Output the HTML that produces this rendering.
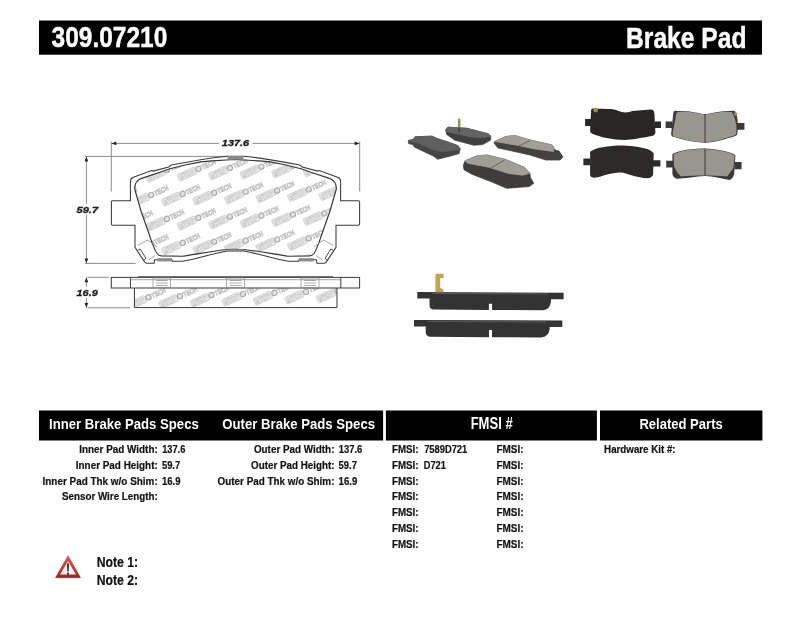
<!DOCTYPE html>
<html><head><meta charset="utf-8"><title>309.07210 Brake Pad</title>
<style>html,body{margin:0;padding:0;background:#fff;}body{width:800px;height:619px;overflow:hidden;font-family:"Liberation Sans",sans-serif;}svg{display:block;will-change:transform;}</style>
</head><body>
<svg width="800" height="619" viewBox="0 0 800 619" font-family="Liberation Sans, sans-serif"><rect x="39" y="20.5" width="723" height="34.2" fill="#000"/>
<text x="51.51" y="46.80" font-size="30.28" font-weight="bold" font-style="normal" fill="#fff" stroke="#fff" stroke-width="0.45" textLength="115.85" lengthAdjust="spacingAndGlyphs">309.07210</text>
<text x="626.08" y="48.30" font-size="29.04" font-weight="bold" font-style="normal" fill="#fff" stroke="#fff" stroke-width="0.45" textLength="120.39" lengthAdjust="spacingAndGlyphs">Brake Pad</text>
<defs>
<clipPath id="fc"><path d="M235.5 159.5 L226 160 L212 160.9 L201 161.9 L185 165 L170 168.75 L160 172.3 L141 178.6 Q134.6 181.5 134.6 188.7 L141 211 L147 228 L152.1 242.9 L155.4 250.6 Q157.3 255.6 161.5 255.9 L182.5 256.25 C197 254.2 212 251 227.5 249.5 L235.5 249.3 L243.5 249.5 C259 251 274 254.2 288.5 256.25 L309.5 255.9 Q313.7 255.6 315.6 250.6 L318.9 242.9 L324 228 L330 211 L336.4 188.7 Q336.4 181.5 330 178.6 L311 172.3 L301 168.75 L286 165 L270 161.9 L259 160.9 L245 160 L235.5 159.5 Z"/></clipPath>
<clipPath id="sc"><rect x="134.4" y="288" width="202.6" height="19.6"/></clipPath>
</defs>
<g clip-path="url(#fc)"><g transform="translate(119.7,147.2) rotate(-24.6)"><rect x="-22" y="-3.6" width="18.8" height="7.2" rx="0.9" fill="#e8e8e8" stroke="#c6c6c6" stroke-width="0.7"/><text x="-20.6" y="2.5" font-size="6.8" font-weight="bold" fill="#fff" stroke="#b2b2b2" stroke-width="0.4" textLength="16" lengthAdjust="spacingAndGlyphs">STOP</text><circle cx="0" cy="0" r="2.6" fill="#e2e2e2" stroke="#a8a8a8" stroke-width="1.1"/><text x="3.6" y="2.6" font-size="7" font-weight="bold" fill="#f0f0f0" stroke="#b6b6b6" stroke-width="0.6" textLength="15" lengthAdjust="spacingAndGlyphs">TECH</text></g><g transform="translate(151.2,146.1) rotate(-24.6)"><rect x="-22" y="-3.6" width="18.8" height="7.2" rx="0.9" fill="#e8e8e8" stroke="#c6c6c6" stroke-width="0.7"/><text x="-20.6" y="2.5" font-size="6.8" font-weight="bold" fill="#fff" stroke="#b2b2b2" stroke-width="0.4" textLength="16" lengthAdjust="spacingAndGlyphs">STOP</text><circle cx="0" cy="0" r="2.6" fill="#e2e2e2" stroke="#a8a8a8" stroke-width="1.1"/><text x="3.6" y="2.6" font-size="7" font-weight="bold" fill="#f0f0f0" stroke="#b6b6b6" stroke-width="0.6" textLength="15" lengthAdjust="spacingAndGlyphs">TECH</text></g><g transform="translate(135.4,171.1) rotate(-24.6)"><rect x="-22" y="-3.6" width="18.8" height="7.2" rx="0.9" fill="#e8e8e8" stroke="#c6c6c6" stroke-width="0.7"/><text x="-20.6" y="2.5" font-size="6.8" font-weight="bold" fill="#fff" stroke="#b2b2b2" stroke-width="0.4" textLength="16" lengthAdjust="spacingAndGlyphs">STOP</text><circle cx="0" cy="0" r="2.6" fill="#e2e2e2" stroke="#a8a8a8" stroke-width="1.1"/><text x="3.6" y="2.6" font-size="7" font-weight="bold" fill="#f0f0f0" stroke="#b6b6b6" stroke-width="0.6" textLength="15" lengthAdjust="spacingAndGlyphs">TECH</text></g><g transform="translate(119.7,196.1) rotate(-24.6)"><rect x="-22" y="-3.6" width="18.8" height="7.2" rx="0.9" fill="#e8e8e8" stroke="#c6c6c6" stroke-width="0.7"/><text x="-20.6" y="2.5" font-size="6.8" font-weight="bold" fill="#fff" stroke="#b2b2b2" stroke-width="0.4" textLength="16" lengthAdjust="spacingAndGlyphs">STOP</text><circle cx="0" cy="0" r="2.6" fill="#e2e2e2" stroke="#a8a8a8" stroke-width="1.1"/><text x="3.6" y="2.6" font-size="7" font-weight="bold" fill="#f0f0f0" stroke="#b6b6b6" stroke-width="0.6" textLength="15" lengthAdjust="spacingAndGlyphs">TECH</text></g><g transform="translate(182.7,145.0) rotate(-24.6)"><rect x="-22" y="-3.6" width="18.8" height="7.2" rx="0.9" fill="#e8e8e8" stroke="#c6c6c6" stroke-width="0.7"/><text x="-20.6" y="2.5" font-size="6.8" font-weight="bold" fill="#fff" stroke="#b2b2b2" stroke-width="0.4" textLength="16" lengthAdjust="spacingAndGlyphs">STOP</text><circle cx="0" cy="0" r="2.6" fill="#e2e2e2" stroke="#a8a8a8" stroke-width="1.1"/><text x="3.6" y="2.6" font-size="7" font-weight="bold" fill="#f0f0f0" stroke="#b6b6b6" stroke-width="0.6" textLength="15" lengthAdjust="spacingAndGlyphs">TECH</text></g><g transform="translate(166.9,170.0) rotate(-24.6)"><rect x="-22" y="-3.6" width="18.8" height="7.2" rx="0.9" fill="#e8e8e8" stroke="#c6c6c6" stroke-width="0.7"/><text x="-20.6" y="2.5" font-size="6.8" font-weight="bold" fill="#fff" stroke="#b2b2b2" stroke-width="0.4" textLength="16" lengthAdjust="spacingAndGlyphs">STOP</text><circle cx="0" cy="0" r="2.6" fill="#e2e2e2" stroke="#a8a8a8" stroke-width="1.1"/><text x="3.6" y="2.6" font-size="7" font-weight="bold" fill="#f0f0f0" stroke="#b6b6b6" stroke-width="0.6" textLength="15" lengthAdjust="spacingAndGlyphs">TECH</text></g><g transform="translate(151.2,195.0) rotate(-24.6)"><rect x="-22" y="-3.6" width="18.8" height="7.2" rx="0.9" fill="#e8e8e8" stroke="#c6c6c6" stroke-width="0.7"/><text x="-20.6" y="2.5" font-size="6.8" font-weight="bold" fill="#fff" stroke="#b2b2b2" stroke-width="0.4" textLength="16" lengthAdjust="spacingAndGlyphs">STOP</text><circle cx="0" cy="0" r="2.6" fill="#e2e2e2" stroke="#a8a8a8" stroke-width="1.1"/><text x="3.6" y="2.6" font-size="7" font-weight="bold" fill="#f0f0f0" stroke="#b6b6b6" stroke-width="0.6" textLength="15" lengthAdjust="spacingAndGlyphs">TECH</text></g><g transform="translate(135.4,220.0) rotate(-24.6)"><rect x="-22" y="-3.6" width="18.8" height="7.2" rx="0.9" fill="#e8e8e8" stroke="#c6c6c6" stroke-width="0.7"/><text x="-20.6" y="2.5" font-size="6.8" font-weight="bold" fill="#fff" stroke="#b2b2b2" stroke-width="0.4" textLength="16" lengthAdjust="spacingAndGlyphs">STOP</text><circle cx="0" cy="0" r="2.6" fill="#e2e2e2" stroke="#a8a8a8" stroke-width="1.1"/><text x="3.6" y="2.6" font-size="7" font-weight="bold" fill="#f0f0f0" stroke="#b6b6b6" stroke-width="0.6" textLength="15" lengthAdjust="spacingAndGlyphs">TECH</text></g><g transform="translate(119.7,245.0) rotate(-24.6)"><rect x="-22" y="-3.6" width="18.8" height="7.2" rx="0.9" fill="#e8e8e8" stroke="#c6c6c6" stroke-width="0.7"/><text x="-20.6" y="2.5" font-size="6.8" font-weight="bold" fill="#fff" stroke="#b2b2b2" stroke-width="0.4" textLength="16" lengthAdjust="spacingAndGlyphs">STOP</text><circle cx="0" cy="0" r="2.6" fill="#e2e2e2" stroke="#a8a8a8" stroke-width="1.1"/><text x="3.6" y="2.6" font-size="7" font-weight="bold" fill="#f0f0f0" stroke="#b6b6b6" stroke-width="0.6" textLength="15" lengthAdjust="spacingAndGlyphs">TECH</text></g><g transform="translate(214.2,143.9) rotate(-24.6)"><rect x="-22" y="-3.6" width="18.8" height="7.2" rx="0.9" fill="#e8e8e8" stroke="#c6c6c6" stroke-width="0.7"/><text x="-20.6" y="2.5" font-size="6.8" font-weight="bold" fill="#fff" stroke="#b2b2b2" stroke-width="0.4" textLength="16" lengthAdjust="spacingAndGlyphs">STOP</text><circle cx="0" cy="0" r="2.6" fill="#e2e2e2" stroke="#a8a8a8" stroke-width="1.1"/><text x="3.6" y="2.6" font-size="7" font-weight="bold" fill="#f0f0f0" stroke="#b6b6b6" stroke-width="0.6" textLength="15" lengthAdjust="spacingAndGlyphs">TECH</text></g><g transform="translate(198.4,168.9) rotate(-24.6)"><rect x="-22" y="-3.6" width="18.8" height="7.2" rx="0.9" fill="#e8e8e8" stroke="#c6c6c6" stroke-width="0.7"/><text x="-20.6" y="2.5" font-size="6.8" font-weight="bold" fill="#fff" stroke="#b2b2b2" stroke-width="0.4" textLength="16" lengthAdjust="spacingAndGlyphs">STOP</text><circle cx="0" cy="0" r="2.6" fill="#e2e2e2" stroke="#a8a8a8" stroke-width="1.1"/><text x="3.6" y="2.6" font-size="7" font-weight="bold" fill="#f0f0f0" stroke="#b6b6b6" stroke-width="0.6" textLength="15" lengthAdjust="spacingAndGlyphs">TECH</text></g><g transform="translate(182.7,193.9) rotate(-24.6)"><rect x="-22" y="-3.6" width="18.8" height="7.2" rx="0.9" fill="#e8e8e8" stroke="#c6c6c6" stroke-width="0.7"/><text x="-20.6" y="2.5" font-size="6.8" font-weight="bold" fill="#fff" stroke="#b2b2b2" stroke-width="0.4" textLength="16" lengthAdjust="spacingAndGlyphs">STOP</text><circle cx="0" cy="0" r="2.6" fill="#e2e2e2" stroke="#a8a8a8" stroke-width="1.1"/><text x="3.6" y="2.6" font-size="7" font-weight="bold" fill="#f0f0f0" stroke="#b6b6b6" stroke-width="0.6" textLength="15" lengthAdjust="spacingAndGlyphs">TECH</text></g><g transform="translate(166.9,218.9) rotate(-24.6)"><rect x="-22" y="-3.6" width="18.8" height="7.2" rx="0.9" fill="#e8e8e8" stroke="#c6c6c6" stroke-width="0.7"/><text x="-20.6" y="2.5" font-size="6.8" font-weight="bold" fill="#fff" stroke="#b2b2b2" stroke-width="0.4" textLength="16" lengthAdjust="spacingAndGlyphs">STOP</text><circle cx="0" cy="0" r="2.6" fill="#e2e2e2" stroke="#a8a8a8" stroke-width="1.1"/><text x="3.6" y="2.6" font-size="7" font-weight="bold" fill="#f0f0f0" stroke="#b6b6b6" stroke-width="0.6" textLength="15" lengthAdjust="spacingAndGlyphs">TECH</text></g><g transform="translate(151.2,243.9) rotate(-24.6)"><rect x="-22" y="-3.6" width="18.8" height="7.2" rx="0.9" fill="#e8e8e8" stroke="#c6c6c6" stroke-width="0.7"/><text x="-20.6" y="2.5" font-size="6.8" font-weight="bold" fill="#fff" stroke="#b2b2b2" stroke-width="0.4" textLength="16" lengthAdjust="spacingAndGlyphs">STOP</text><circle cx="0" cy="0" r="2.6" fill="#e2e2e2" stroke="#a8a8a8" stroke-width="1.1"/><text x="3.6" y="2.6" font-size="7" font-weight="bold" fill="#f0f0f0" stroke="#b6b6b6" stroke-width="0.6" textLength="15" lengthAdjust="spacingAndGlyphs">TECH</text></g><g transform="translate(135.4,268.9) rotate(-24.6)"><rect x="-22" y="-3.6" width="18.8" height="7.2" rx="0.9" fill="#e8e8e8" stroke="#c6c6c6" stroke-width="0.7"/><text x="-20.6" y="2.5" font-size="6.8" font-weight="bold" fill="#fff" stroke="#b2b2b2" stroke-width="0.4" textLength="16" lengthAdjust="spacingAndGlyphs">STOP</text><circle cx="0" cy="0" r="2.6" fill="#e2e2e2" stroke="#a8a8a8" stroke-width="1.1"/><text x="3.6" y="2.6" font-size="7" font-weight="bold" fill="#f0f0f0" stroke="#b6b6b6" stroke-width="0.6" textLength="15" lengthAdjust="spacingAndGlyphs">TECH</text></g><g transform="translate(245.7,142.8) rotate(-24.6)"><rect x="-22" y="-3.6" width="18.8" height="7.2" rx="0.9" fill="#e8e8e8" stroke="#c6c6c6" stroke-width="0.7"/><text x="-20.6" y="2.5" font-size="6.8" font-weight="bold" fill="#fff" stroke="#b2b2b2" stroke-width="0.4" textLength="16" lengthAdjust="spacingAndGlyphs">STOP</text><circle cx="0" cy="0" r="2.6" fill="#e2e2e2" stroke="#a8a8a8" stroke-width="1.1"/><text x="3.6" y="2.6" font-size="7" font-weight="bold" fill="#f0f0f0" stroke="#b6b6b6" stroke-width="0.6" textLength="15" lengthAdjust="spacingAndGlyphs">TECH</text></g><g transform="translate(229.9,167.8) rotate(-24.6)"><rect x="-22" y="-3.6" width="18.8" height="7.2" rx="0.9" fill="#e8e8e8" stroke="#c6c6c6" stroke-width="0.7"/><text x="-20.6" y="2.5" font-size="6.8" font-weight="bold" fill="#fff" stroke="#b2b2b2" stroke-width="0.4" textLength="16" lengthAdjust="spacingAndGlyphs">STOP</text><circle cx="0" cy="0" r="2.6" fill="#e2e2e2" stroke="#a8a8a8" stroke-width="1.1"/><text x="3.6" y="2.6" font-size="7" font-weight="bold" fill="#f0f0f0" stroke="#b6b6b6" stroke-width="0.6" textLength="15" lengthAdjust="spacingAndGlyphs">TECH</text></g><g transform="translate(214.2,192.8) rotate(-24.6)"><rect x="-22" y="-3.6" width="18.8" height="7.2" rx="0.9" fill="#e8e8e8" stroke="#c6c6c6" stroke-width="0.7"/><text x="-20.6" y="2.5" font-size="6.8" font-weight="bold" fill="#fff" stroke="#b2b2b2" stroke-width="0.4" textLength="16" lengthAdjust="spacingAndGlyphs">STOP</text><circle cx="0" cy="0" r="2.6" fill="#e2e2e2" stroke="#a8a8a8" stroke-width="1.1"/><text x="3.6" y="2.6" font-size="7" font-weight="bold" fill="#f0f0f0" stroke="#b6b6b6" stroke-width="0.6" textLength="15" lengthAdjust="spacingAndGlyphs">TECH</text></g><g transform="translate(198.4,217.8) rotate(-24.6)"><rect x="-22" y="-3.6" width="18.8" height="7.2" rx="0.9" fill="#e8e8e8" stroke="#c6c6c6" stroke-width="0.7"/><text x="-20.6" y="2.5" font-size="6.8" font-weight="bold" fill="#fff" stroke="#b2b2b2" stroke-width="0.4" textLength="16" lengthAdjust="spacingAndGlyphs">STOP</text><circle cx="0" cy="0" r="2.6" fill="#e2e2e2" stroke="#a8a8a8" stroke-width="1.1"/><text x="3.6" y="2.6" font-size="7" font-weight="bold" fill="#f0f0f0" stroke="#b6b6b6" stroke-width="0.6" textLength="15" lengthAdjust="spacingAndGlyphs">TECH</text></g><g transform="translate(182.7,242.8) rotate(-24.6)"><rect x="-22" y="-3.6" width="18.8" height="7.2" rx="0.9" fill="#e8e8e8" stroke="#c6c6c6" stroke-width="0.7"/><text x="-20.6" y="2.5" font-size="6.8" font-weight="bold" fill="#fff" stroke="#b2b2b2" stroke-width="0.4" textLength="16" lengthAdjust="spacingAndGlyphs">STOP</text><circle cx="0" cy="0" r="2.6" fill="#e2e2e2" stroke="#a8a8a8" stroke-width="1.1"/><text x="3.6" y="2.6" font-size="7" font-weight="bold" fill="#f0f0f0" stroke="#b6b6b6" stroke-width="0.6" textLength="15" lengthAdjust="spacingAndGlyphs">TECH</text></g><g transform="translate(166.9,267.8) rotate(-24.6)"><rect x="-22" y="-3.6" width="18.8" height="7.2" rx="0.9" fill="#e8e8e8" stroke="#c6c6c6" stroke-width="0.7"/><text x="-20.6" y="2.5" font-size="6.8" font-weight="bold" fill="#fff" stroke="#b2b2b2" stroke-width="0.4" textLength="16" lengthAdjust="spacingAndGlyphs">STOP</text><circle cx="0" cy="0" r="2.6" fill="#e2e2e2" stroke="#a8a8a8" stroke-width="1.1"/><text x="3.6" y="2.6" font-size="7" font-weight="bold" fill="#f0f0f0" stroke="#b6b6b6" stroke-width="0.6" textLength="15" lengthAdjust="spacingAndGlyphs">TECH</text></g><g transform="translate(277.2,141.7) rotate(-24.6)"><rect x="-22" y="-3.6" width="18.8" height="7.2" rx="0.9" fill="#e8e8e8" stroke="#c6c6c6" stroke-width="0.7"/><text x="-20.6" y="2.5" font-size="6.8" font-weight="bold" fill="#fff" stroke="#b2b2b2" stroke-width="0.4" textLength="16" lengthAdjust="spacingAndGlyphs">STOP</text><circle cx="0" cy="0" r="2.6" fill="#e2e2e2" stroke="#a8a8a8" stroke-width="1.1"/><text x="3.6" y="2.6" font-size="7" font-weight="bold" fill="#f0f0f0" stroke="#b6b6b6" stroke-width="0.6" textLength="15" lengthAdjust="spacingAndGlyphs">TECH</text></g><g transform="translate(261.4,166.7) rotate(-24.6)"><rect x="-22" y="-3.6" width="18.8" height="7.2" rx="0.9" fill="#e8e8e8" stroke="#c6c6c6" stroke-width="0.7"/><text x="-20.6" y="2.5" font-size="6.8" font-weight="bold" fill="#fff" stroke="#b2b2b2" stroke-width="0.4" textLength="16" lengthAdjust="spacingAndGlyphs">STOP</text><circle cx="0" cy="0" r="2.6" fill="#e2e2e2" stroke="#a8a8a8" stroke-width="1.1"/><text x="3.6" y="2.6" font-size="7" font-weight="bold" fill="#f0f0f0" stroke="#b6b6b6" stroke-width="0.6" textLength="15" lengthAdjust="spacingAndGlyphs">TECH</text></g><g transform="translate(245.7,191.7) rotate(-24.6)"><rect x="-22" y="-3.6" width="18.8" height="7.2" rx="0.9" fill="#e8e8e8" stroke="#c6c6c6" stroke-width="0.7"/><text x="-20.6" y="2.5" font-size="6.8" font-weight="bold" fill="#fff" stroke="#b2b2b2" stroke-width="0.4" textLength="16" lengthAdjust="spacingAndGlyphs">STOP</text><circle cx="0" cy="0" r="2.6" fill="#e2e2e2" stroke="#a8a8a8" stroke-width="1.1"/><text x="3.6" y="2.6" font-size="7" font-weight="bold" fill="#f0f0f0" stroke="#b6b6b6" stroke-width="0.6" textLength="15" lengthAdjust="spacingAndGlyphs">TECH</text></g><g transform="translate(229.9,216.7) rotate(-24.6)"><rect x="-22" y="-3.6" width="18.8" height="7.2" rx="0.9" fill="#e8e8e8" stroke="#c6c6c6" stroke-width="0.7"/><text x="-20.6" y="2.5" font-size="6.8" font-weight="bold" fill="#fff" stroke="#b2b2b2" stroke-width="0.4" textLength="16" lengthAdjust="spacingAndGlyphs">STOP</text><circle cx="0" cy="0" r="2.6" fill="#e2e2e2" stroke="#a8a8a8" stroke-width="1.1"/><text x="3.6" y="2.6" font-size="7" font-weight="bold" fill="#f0f0f0" stroke="#b6b6b6" stroke-width="0.6" textLength="15" lengthAdjust="spacingAndGlyphs">TECH</text></g><g transform="translate(214.2,241.7) rotate(-24.6)"><rect x="-22" y="-3.6" width="18.8" height="7.2" rx="0.9" fill="#e8e8e8" stroke="#c6c6c6" stroke-width="0.7"/><text x="-20.6" y="2.5" font-size="6.8" font-weight="bold" fill="#fff" stroke="#b2b2b2" stroke-width="0.4" textLength="16" lengthAdjust="spacingAndGlyphs">STOP</text><circle cx="0" cy="0" r="2.6" fill="#e2e2e2" stroke="#a8a8a8" stroke-width="1.1"/><text x="3.6" y="2.6" font-size="7" font-weight="bold" fill="#f0f0f0" stroke="#b6b6b6" stroke-width="0.6" textLength="15" lengthAdjust="spacingAndGlyphs">TECH</text></g><g transform="translate(198.4,266.7) rotate(-24.6)"><rect x="-22" y="-3.6" width="18.8" height="7.2" rx="0.9" fill="#e8e8e8" stroke="#c6c6c6" stroke-width="0.7"/><text x="-20.6" y="2.5" font-size="6.8" font-weight="bold" fill="#fff" stroke="#b2b2b2" stroke-width="0.4" textLength="16" lengthAdjust="spacingAndGlyphs">STOP</text><circle cx="0" cy="0" r="2.6" fill="#e2e2e2" stroke="#a8a8a8" stroke-width="1.1"/><text x="3.6" y="2.6" font-size="7" font-weight="bold" fill="#f0f0f0" stroke="#b6b6b6" stroke-width="0.6" textLength="15" lengthAdjust="spacingAndGlyphs">TECH</text></g><g transform="translate(308.7,140.6) rotate(-24.6)"><rect x="-22" y="-3.6" width="18.8" height="7.2" rx="0.9" fill="#e8e8e8" stroke="#c6c6c6" stroke-width="0.7"/><text x="-20.6" y="2.5" font-size="6.8" font-weight="bold" fill="#fff" stroke="#b2b2b2" stroke-width="0.4" textLength="16" lengthAdjust="spacingAndGlyphs">STOP</text><circle cx="0" cy="0" r="2.6" fill="#e2e2e2" stroke="#a8a8a8" stroke-width="1.1"/><text x="3.6" y="2.6" font-size="7" font-weight="bold" fill="#f0f0f0" stroke="#b6b6b6" stroke-width="0.6" textLength="15" lengthAdjust="spacingAndGlyphs">TECH</text></g><g transform="translate(292.9,165.6) rotate(-24.6)"><rect x="-22" y="-3.6" width="18.8" height="7.2" rx="0.9" fill="#e8e8e8" stroke="#c6c6c6" stroke-width="0.7"/><text x="-20.6" y="2.5" font-size="6.8" font-weight="bold" fill="#fff" stroke="#b2b2b2" stroke-width="0.4" textLength="16" lengthAdjust="spacingAndGlyphs">STOP</text><circle cx="0" cy="0" r="2.6" fill="#e2e2e2" stroke="#a8a8a8" stroke-width="1.1"/><text x="3.6" y="2.6" font-size="7" font-weight="bold" fill="#f0f0f0" stroke="#b6b6b6" stroke-width="0.6" textLength="15" lengthAdjust="spacingAndGlyphs">TECH</text></g><g transform="translate(277.2,190.6) rotate(-24.6)"><rect x="-22" y="-3.6" width="18.8" height="7.2" rx="0.9" fill="#e8e8e8" stroke="#c6c6c6" stroke-width="0.7"/><text x="-20.6" y="2.5" font-size="6.8" font-weight="bold" fill="#fff" stroke="#b2b2b2" stroke-width="0.4" textLength="16" lengthAdjust="spacingAndGlyphs">STOP</text><circle cx="0" cy="0" r="2.6" fill="#e2e2e2" stroke="#a8a8a8" stroke-width="1.1"/><text x="3.6" y="2.6" font-size="7" font-weight="bold" fill="#f0f0f0" stroke="#b6b6b6" stroke-width="0.6" textLength="15" lengthAdjust="spacingAndGlyphs">TECH</text></g><g transform="translate(261.4,215.6) rotate(-24.6)"><rect x="-22" y="-3.6" width="18.8" height="7.2" rx="0.9" fill="#e8e8e8" stroke="#c6c6c6" stroke-width="0.7"/><text x="-20.6" y="2.5" font-size="6.8" font-weight="bold" fill="#fff" stroke="#b2b2b2" stroke-width="0.4" textLength="16" lengthAdjust="spacingAndGlyphs">STOP</text><circle cx="0" cy="0" r="2.6" fill="#e2e2e2" stroke="#a8a8a8" stroke-width="1.1"/><text x="3.6" y="2.6" font-size="7" font-weight="bold" fill="#f0f0f0" stroke="#b6b6b6" stroke-width="0.6" textLength="15" lengthAdjust="spacingAndGlyphs">TECH</text></g><g transform="translate(245.7,240.6) rotate(-24.6)"><rect x="-22" y="-3.6" width="18.8" height="7.2" rx="0.9" fill="#e8e8e8" stroke="#c6c6c6" stroke-width="0.7"/><text x="-20.6" y="2.5" font-size="6.8" font-weight="bold" fill="#fff" stroke="#b2b2b2" stroke-width="0.4" textLength="16" lengthAdjust="spacingAndGlyphs">STOP</text><circle cx="0" cy="0" r="2.6" fill="#e2e2e2" stroke="#a8a8a8" stroke-width="1.1"/><text x="3.6" y="2.6" font-size="7" font-weight="bold" fill="#f0f0f0" stroke="#b6b6b6" stroke-width="0.6" textLength="15" lengthAdjust="spacingAndGlyphs">TECH</text></g><g transform="translate(229.9,265.6) rotate(-24.6)"><rect x="-22" y="-3.6" width="18.8" height="7.2" rx="0.9" fill="#e8e8e8" stroke="#c6c6c6" stroke-width="0.7"/><text x="-20.6" y="2.5" font-size="6.8" font-weight="bold" fill="#fff" stroke="#b2b2b2" stroke-width="0.4" textLength="16" lengthAdjust="spacingAndGlyphs">STOP</text><circle cx="0" cy="0" r="2.6" fill="#e2e2e2" stroke="#a8a8a8" stroke-width="1.1"/><text x="3.6" y="2.6" font-size="7" font-weight="bold" fill="#f0f0f0" stroke="#b6b6b6" stroke-width="0.6" textLength="15" lengthAdjust="spacingAndGlyphs">TECH</text></g><g transform="translate(324.4,164.5) rotate(-24.6)"><rect x="-22" y="-3.6" width="18.8" height="7.2" rx="0.9" fill="#e8e8e8" stroke="#c6c6c6" stroke-width="0.7"/><text x="-20.6" y="2.5" font-size="6.8" font-weight="bold" fill="#fff" stroke="#b2b2b2" stroke-width="0.4" textLength="16" lengthAdjust="spacingAndGlyphs">STOP</text><circle cx="0" cy="0" r="2.6" fill="#e2e2e2" stroke="#a8a8a8" stroke-width="1.1"/><text x="3.6" y="2.6" font-size="7" font-weight="bold" fill="#f0f0f0" stroke="#b6b6b6" stroke-width="0.6" textLength="15" lengthAdjust="spacingAndGlyphs">TECH</text></g><g transform="translate(308.7,189.5) rotate(-24.6)"><rect x="-22" y="-3.6" width="18.8" height="7.2" rx="0.9" fill="#e8e8e8" stroke="#c6c6c6" stroke-width="0.7"/><text x="-20.6" y="2.5" font-size="6.8" font-weight="bold" fill="#fff" stroke="#b2b2b2" stroke-width="0.4" textLength="16" lengthAdjust="spacingAndGlyphs">STOP</text><circle cx="0" cy="0" r="2.6" fill="#e2e2e2" stroke="#a8a8a8" stroke-width="1.1"/><text x="3.6" y="2.6" font-size="7" font-weight="bold" fill="#f0f0f0" stroke="#b6b6b6" stroke-width="0.6" textLength="15" lengthAdjust="spacingAndGlyphs">TECH</text></g><g transform="translate(292.9,214.5) rotate(-24.6)"><rect x="-22" y="-3.6" width="18.8" height="7.2" rx="0.9" fill="#e8e8e8" stroke="#c6c6c6" stroke-width="0.7"/><text x="-20.6" y="2.5" font-size="6.8" font-weight="bold" fill="#fff" stroke="#b2b2b2" stroke-width="0.4" textLength="16" lengthAdjust="spacingAndGlyphs">STOP</text><circle cx="0" cy="0" r="2.6" fill="#e2e2e2" stroke="#a8a8a8" stroke-width="1.1"/><text x="3.6" y="2.6" font-size="7" font-weight="bold" fill="#f0f0f0" stroke="#b6b6b6" stroke-width="0.6" textLength="15" lengthAdjust="spacingAndGlyphs">TECH</text></g><g transform="translate(277.2,239.5) rotate(-24.6)"><rect x="-22" y="-3.6" width="18.8" height="7.2" rx="0.9" fill="#e8e8e8" stroke="#c6c6c6" stroke-width="0.7"/><text x="-20.6" y="2.5" font-size="6.8" font-weight="bold" fill="#fff" stroke="#b2b2b2" stroke-width="0.4" textLength="16" lengthAdjust="spacingAndGlyphs">STOP</text><circle cx="0" cy="0" r="2.6" fill="#e2e2e2" stroke="#a8a8a8" stroke-width="1.1"/><text x="3.6" y="2.6" font-size="7" font-weight="bold" fill="#f0f0f0" stroke="#b6b6b6" stroke-width="0.6" textLength="15" lengthAdjust="spacingAndGlyphs">TECH</text></g><g transform="translate(261.4,264.5) rotate(-24.6)"><rect x="-22" y="-3.6" width="18.8" height="7.2" rx="0.9" fill="#e8e8e8" stroke="#c6c6c6" stroke-width="0.7"/><text x="-20.6" y="2.5" font-size="6.8" font-weight="bold" fill="#fff" stroke="#b2b2b2" stroke-width="0.4" textLength="16" lengthAdjust="spacingAndGlyphs">STOP</text><circle cx="0" cy="0" r="2.6" fill="#e2e2e2" stroke="#a8a8a8" stroke-width="1.1"/><text x="3.6" y="2.6" font-size="7" font-weight="bold" fill="#f0f0f0" stroke="#b6b6b6" stroke-width="0.6" textLength="15" lengthAdjust="spacingAndGlyphs">TECH</text></g><g transform="translate(355.9,163.4) rotate(-24.6)"><rect x="-22" y="-3.6" width="18.8" height="7.2" rx="0.9" fill="#e8e8e8" stroke="#c6c6c6" stroke-width="0.7"/><text x="-20.6" y="2.5" font-size="6.8" font-weight="bold" fill="#fff" stroke="#b2b2b2" stroke-width="0.4" textLength="16" lengthAdjust="spacingAndGlyphs">STOP</text><circle cx="0" cy="0" r="2.6" fill="#e2e2e2" stroke="#a8a8a8" stroke-width="1.1"/><text x="3.6" y="2.6" font-size="7" font-weight="bold" fill="#f0f0f0" stroke="#b6b6b6" stroke-width="0.6" textLength="15" lengthAdjust="spacingAndGlyphs">TECH</text></g><g transform="translate(340.2,188.4) rotate(-24.6)"><rect x="-22" y="-3.6" width="18.8" height="7.2" rx="0.9" fill="#e8e8e8" stroke="#c6c6c6" stroke-width="0.7"/><text x="-20.6" y="2.5" font-size="6.8" font-weight="bold" fill="#fff" stroke="#b2b2b2" stroke-width="0.4" textLength="16" lengthAdjust="spacingAndGlyphs">STOP</text><circle cx="0" cy="0" r="2.6" fill="#e2e2e2" stroke="#a8a8a8" stroke-width="1.1"/><text x="3.6" y="2.6" font-size="7" font-weight="bold" fill="#f0f0f0" stroke="#b6b6b6" stroke-width="0.6" textLength="15" lengthAdjust="spacingAndGlyphs">TECH</text></g><g transform="translate(324.4,213.4) rotate(-24.6)"><rect x="-22" y="-3.6" width="18.8" height="7.2" rx="0.9" fill="#e8e8e8" stroke="#c6c6c6" stroke-width="0.7"/><text x="-20.6" y="2.5" font-size="6.8" font-weight="bold" fill="#fff" stroke="#b2b2b2" stroke-width="0.4" textLength="16" lengthAdjust="spacingAndGlyphs">STOP</text><circle cx="0" cy="0" r="2.6" fill="#e2e2e2" stroke="#a8a8a8" stroke-width="1.1"/><text x="3.6" y="2.6" font-size="7" font-weight="bold" fill="#f0f0f0" stroke="#b6b6b6" stroke-width="0.6" textLength="15" lengthAdjust="spacingAndGlyphs">TECH</text></g><g transform="translate(308.7,238.4) rotate(-24.6)"><rect x="-22" y="-3.6" width="18.8" height="7.2" rx="0.9" fill="#e8e8e8" stroke="#c6c6c6" stroke-width="0.7"/><text x="-20.6" y="2.5" font-size="6.8" font-weight="bold" fill="#fff" stroke="#b2b2b2" stroke-width="0.4" textLength="16" lengthAdjust="spacingAndGlyphs">STOP</text><circle cx="0" cy="0" r="2.6" fill="#e2e2e2" stroke="#a8a8a8" stroke-width="1.1"/><text x="3.6" y="2.6" font-size="7" font-weight="bold" fill="#f0f0f0" stroke="#b6b6b6" stroke-width="0.6" textLength="15" lengthAdjust="spacingAndGlyphs">TECH</text></g><g transform="translate(292.9,263.4) rotate(-24.6)"><rect x="-22" y="-3.6" width="18.8" height="7.2" rx="0.9" fill="#e8e8e8" stroke="#c6c6c6" stroke-width="0.7"/><text x="-20.6" y="2.5" font-size="6.8" font-weight="bold" fill="#fff" stroke="#b2b2b2" stroke-width="0.4" textLength="16" lengthAdjust="spacingAndGlyphs">STOP</text><circle cx="0" cy="0" r="2.6" fill="#e2e2e2" stroke="#a8a8a8" stroke-width="1.1"/><text x="3.6" y="2.6" font-size="7" font-weight="bold" fill="#f0f0f0" stroke="#b6b6b6" stroke-width="0.6" textLength="15" lengthAdjust="spacingAndGlyphs">TECH</text></g><g transform="translate(355.9,212.3) rotate(-24.6)"><rect x="-22" y="-3.6" width="18.8" height="7.2" rx="0.9" fill="#e8e8e8" stroke="#c6c6c6" stroke-width="0.7"/><text x="-20.6" y="2.5" font-size="6.8" font-weight="bold" fill="#fff" stroke="#b2b2b2" stroke-width="0.4" textLength="16" lengthAdjust="spacingAndGlyphs">STOP</text><circle cx="0" cy="0" r="2.6" fill="#e2e2e2" stroke="#a8a8a8" stroke-width="1.1"/><text x="3.6" y="2.6" font-size="7" font-weight="bold" fill="#f0f0f0" stroke="#b6b6b6" stroke-width="0.6" textLength="15" lengthAdjust="spacingAndGlyphs">TECH</text></g><g transform="translate(340.2,237.3) rotate(-24.6)"><rect x="-22" y="-3.6" width="18.8" height="7.2" rx="0.9" fill="#e8e8e8" stroke="#c6c6c6" stroke-width="0.7"/><text x="-20.6" y="2.5" font-size="6.8" font-weight="bold" fill="#fff" stroke="#b2b2b2" stroke-width="0.4" textLength="16" lengthAdjust="spacingAndGlyphs">STOP</text><circle cx="0" cy="0" r="2.6" fill="#e2e2e2" stroke="#a8a8a8" stroke-width="1.1"/><text x="3.6" y="2.6" font-size="7" font-weight="bold" fill="#f0f0f0" stroke="#b6b6b6" stroke-width="0.6" textLength="15" lengthAdjust="spacingAndGlyphs">TECH</text></g><g transform="translate(324.4,262.3) rotate(-24.6)"><rect x="-22" y="-3.6" width="18.8" height="7.2" rx="0.9" fill="#e8e8e8" stroke="#c6c6c6" stroke-width="0.7"/><text x="-20.6" y="2.5" font-size="6.8" font-weight="bold" fill="#fff" stroke="#b2b2b2" stroke-width="0.4" textLength="16" lengthAdjust="spacingAndGlyphs">STOP</text><circle cx="0" cy="0" r="2.6" fill="#e2e2e2" stroke="#a8a8a8" stroke-width="1.1"/><text x="3.6" y="2.6" font-size="7" font-weight="bold" fill="#f0f0f0" stroke="#b6b6b6" stroke-width="0.6" textLength="15" lengthAdjust="spacingAndGlyphs">TECH</text></g><g transform="translate(355.9,261.2) rotate(-24.6)"><rect x="-22" y="-3.6" width="18.8" height="7.2" rx="0.9" fill="#e8e8e8" stroke="#c6c6c6" stroke-width="0.7"/><text x="-20.6" y="2.5" font-size="6.8" font-weight="bold" fill="#fff" stroke="#b2b2b2" stroke-width="0.4" textLength="16" lengthAdjust="spacingAndGlyphs">STOP</text><circle cx="0" cy="0" r="2.6" fill="#e2e2e2" stroke="#a8a8a8" stroke-width="1.1"/><text x="3.6" y="2.6" font-size="7" font-weight="bold" fill="#f0f0f0" stroke="#b6b6b6" stroke-width="0.6" textLength="15" lengthAdjust="spacingAndGlyphs">TECH</text></g></g>
<g clip-path="url(#sc)"><g transform="translate(132.8,273.4) rotate(-24.6)"><rect x="-22" y="-3.6" width="18.8" height="7.2" rx="0.9" fill="#e8e8e8" stroke="#c6c6c6" stroke-width="0.7"/><text x="-20.6" y="2.5" font-size="6.8" font-weight="bold" fill="#fff" stroke="#b2b2b2" stroke-width="0.4" textLength="16" lengthAdjust="spacingAndGlyphs">STOP</text><circle cx="0" cy="0" r="2.6" fill="#e2e2e2" stroke="#a8a8a8" stroke-width="1.1"/><text x="3.6" y="2.6" font-size="7" font-weight="bold" fill="#f0f0f0" stroke="#b6b6b6" stroke-width="0.6" textLength="15" lengthAdjust="spacingAndGlyphs">TECH</text></g><g transform="translate(117.0,298.4) rotate(-24.6)"><rect x="-22" y="-3.6" width="18.8" height="7.2" rx="0.9" fill="#e8e8e8" stroke="#c6c6c6" stroke-width="0.7"/><text x="-20.6" y="2.5" font-size="6.8" font-weight="bold" fill="#fff" stroke="#b2b2b2" stroke-width="0.4" textLength="16" lengthAdjust="spacingAndGlyphs">STOP</text><circle cx="0" cy="0" r="2.6" fill="#e2e2e2" stroke="#a8a8a8" stroke-width="1.1"/><text x="3.6" y="2.6" font-size="7" font-weight="bold" fill="#f0f0f0" stroke="#b6b6b6" stroke-width="0.6" textLength="15" lengthAdjust="spacingAndGlyphs">TECH</text></g><g transform="translate(164.2,272.3) rotate(-24.6)"><rect x="-22" y="-3.6" width="18.8" height="7.2" rx="0.9" fill="#e8e8e8" stroke="#c6c6c6" stroke-width="0.7"/><text x="-20.6" y="2.5" font-size="6.8" font-weight="bold" fill="#fff" stroke="#b2b2b2" stroke-width="0.4" textLength="16" lengthAdjust="spacingAndGlyphs">STOP</text><circle cx="0" cy="0" r="2.6" fill="#e2e2e2" stroke="#a8a8a8" stroke-width="1.1"/><text x="3.6" y="2.6" font-size="7" font-weight="bold" fill="#f0f0f0" stroke="#b6b6b6" stroke-width="0.6" textLength="15" lengthAdjust="spacingAndGlyphs">TECH</text></g><g transform="translate(148.5,297.3) rotate(-24.6)"><rect x="-22" y="-3.6" width="18.8" height="7.2" rx="0.9" fill="#e8e8e8" stroke="#c6c6c6" stroke-width="0.7"/><text x="-20.6" y="2.5" font-size="6.8" font-weight="bold" fill="#fff" stroke="#b2b2b2" stroke-width="0.4" textLength="16" lengthAdjust="spacingAndGlyphs">STOP</text><circle cx="0" cy="0" r="2.6" fill="#e2e2e2" stroke="#a8a8a8" stroke-width="1.1"/><text x="3.6" y="2.6" font-size="7" font-weight="bold" fill="#f0f0f0" stroke="#b6b6b6" stroke-width="0.6" textLength="15" lengthAdjust="spacingAndGlyphs">TECH</text></g><g transform="translate(132.8,322.3) rotate(-24.6)"><rect x="-22" y="-3.6" width="18.8" height="7.2" rx="0.9" fill="#e8e8e8" stroke="#c6c6c6" stroke-width="0.7"/><text x="-20.6" y="2.5" font-size="6.8" font-weight="bold" fill="#fff" stroke="#b2b2b2" stroke-width="0.4" textLength="16" lengthAdjust="spacingAndGlyphs">STOP</text><circle cx="0" cy="0" r="2.6" fill="#e2e2e2" stroke="#a8a8a8" stroke-width="1.1"/><text x="3.6" y="2.6" font-size="7" font-weight="bold" fill="#f0f0f0" stroke="#b6b6b6" stroke-width="0.6" textLength="15" lengthAdjust="spacingAndGlyphs">TECH</text></g><g transform="translate(195.8,271.2) rotate(-24.6)"><rect x="-22" y="-3.6" width="18.8" height="7.2" rx="0.9" fill="#e8e8e8" stroke="#c6c6c6" stroke-width="0.7"/><text x="-20.6" y="2.5" font-size="6.8" font-weight="bold" fill="#fff" stroke="#b2b2b2" stroke-width="0.4" textLength="16" lengthAdjust="spacingAndGlyphs">STOP</text><circle cx="0" cy="0" r="2.6" fill="#e2e2e2" stroke="#a8a8a8" stroke-width="1.1"/><text x="3.6" y="2.6" font-size="7" font-weight="bold" fill="#f0f0f0" stroke="#b6b6b6" stroke-width="0.6" textLength="15" lengthAdjust="spacingAndGlyphs">TECH</text></g><g transform="translate(180.0,296.2) rotate(-24.6)"><rect x="-22" y="-3.6" width="18.8" height="7.2" rx="0.9" fill="#e8e8e8" stroke="#c6c6c6" stroke-width="0.7"/><text x="-20.6" y="2.5" font-size="6.8" font-weight="bold" fill="#fff" stroke="#b2b2b2" stroke-width="0.4" textLength="16" lengthAdjust="spacingAndGlyphs">STOP</text><circle cx="0" cy="0" r="2.6" fill="#e2e2e2" stroke="#a8a8a8" stroke-width="1.1"/><text x="3.6" y="2.6" font-size="7" font-weight="bold" fill="#f0f0f0" stroke="#b6b6b6" stroke-width="0.6" textLength="15" lengthAdjust="spacingAndGlyphs">TECH</text></g><g transform="translate(164.2,321.2) rotate(-24.6)"><rect x="-22" y="-3.6" width="18.8" height="7.2" rx="0.9" fill="#e8e8e8" stroke="#c6c6c6" stroke-width="0.7"/><text x="-20.6" y="2.5" font-size="6.8" font-weight="bold" fill="#fff" stroke="#b2b2b2" stroke-width="0.4" textLength="16" lengthAdjust="spacingAndGlyphs">STOP</text><circle cx="0" cy="0" r="2.6" fill="#e2e2e2" stroke="#a8a8a8" stroke-width="1.1"/><text x="3.6" y="2.6" font-size="7" font-weight="bold" fill="#f0f0f0" stroke="#b6b6b6" stroke-width="0.6" textLength="15" lengthAdjust="spacingAndGlyphs">TECH</text></g><g transform="translate(227.2,270.1) rotate(-24.6)"><rect x="-22" y="-3.6" width="18.8" height="7.2" rx="0.9" fill="#e8e8e8" stroke="#c6c6c6" stroke-width="0.7"/><text x="-20.6" y="2.5" font-size="6.8" font-weight="bold" fill="#fff" stroke="#b2b2b2" stroke-width="0.4" textLength="16" lengthAdjust="spacingAndGlyphs">STOP</text><circle cx="0" cy="0" r="2.6" fill="#e2e2e2" stroke="#a8a8a8" stroke-width="1.1"/><text x="3.6" y="2.6" font-size="7" font-weight="bold" fill="#f0f0f0" stroke="#b6b6b6" stroke-width="0.6" textLength="15" lengthAdjust="spacingAndGlyphs">TECH</text></g><g transform="translate(211.5,295.1) rotate(-24.6)"><rect x="-22" y="-3.6" width="18.8" height="7.2" rx="0.9" fill="#e8e8e8" stroke="#c6c6c6" stroke-width="0.7"/><text x="-20.6" y="2.5" font-size="6.8" font-weight="bold" fill="#fff" stroke="#b2b2b2" stroke-width="0.4" textLength="16" lengthAdjust="spacingAndGlyphs">STOP</text><circle cx="0" cy="0" r="2.6" fill="#e2e2e2" stroke="#a8a8a8" stroke-width="1.1"/><text x="3.6" y="2.6" font-size="7" font-weight="bold" fill="#f0f0f0" stroke="#b6b6b6" stroke-width="0.6" textLength="15" lengthAdjust="spacingAndGlyphs">TECH</text></g><g transform="translate(195.8,320.1) rotate(-24.6)"><rect x="-22" y="-3.6" width="18.8" height="7.2" rx="0.9" fill="#e8e8e8" stroke="#c6c6c6" stroke-width="0.7"/><text x="-20.6" y="2.5" font-size="6.8" font-weight="bold" fill="#fff" stroke="#b2b2b2" stroke-width="0.4" textLength="16" lengthAdjust="spacingAndGlyphs">STOP</text><circle cx="0" cy="0" r="2.6" fill="#e2e2e2" stroke="#a8a8a8" stroke-width="1.1"/><text x="3.6" y="2.6" font-size="7" font-weight="bold" fill="#f0f0f0" stroke="#b6b6b6" stroke-width="0.6" textLength="15" lengthAdjust="spacingAndGlyphs">TECH</text></g><g transform="translate(243.0,294.0) rotate(-24.6)"><rect x="-22" y="-3.6" width="18.8" height="7.2" rx="0.9" fill="#e8e8e8" stroke="#c6c6c6" stroke-width="0.7"/><text x="-20.6" y="2.5" font-size="6.8" font-weight="bold" fill="#fff" stroke="#b2b2b2" stroke-width="0.4" textLength="16" lengthAdjust="spacingAndGlyphs">STOP</text><circle cx="0" cy="0" r="2.6" fill="#e2e2e2" stroke="#a8a8a8" stroke-width="1.1"/><text x="3.6" y="2.6" font-size="7" font-weight="bold" fill="#f0f0f0" stroke="#b6b6b6" stroke-width="0.6" textLength="15" lengthAdjust="spacingAndGlyphs">TECH</text></g><g transform="translate(227.2,319.0) rotate(-24.6)"><rect x="-22" y="-3.6" width="18.8" height="7.2" rx="0.9" fill="#e8e8e8" stroke="#c6c6c6" stroke-width="0.7"/><text x="-20.6" y="2.5" font-size="6.8" font-weight="bold" fill="#fff" stroke="#b2b2b2" stroke-width="0.4" textLength="16" lengthAdjust="spacingAndGlyphs">STOP</text><circle cx="0" cy="0" r="2.6" fill="#e2e2e2" stroke="#a8a8a8" stroke-width="1.1"/><text x="3.6" y="2.6" font-size="7" font-weight="bold" fill="#f0f0f0" stroke="#b6b6b6" stroke-width="0.6" textLength="15" lengthAdjust="spacingAndGlyphs">TECH</text></g><g transform="translate(274.5,292.9) rotate(-24.6)"><rect x="-22" y="-3.6" width="18.8" height="7.2" rx="0.9" fill="#e8e8e8" stroke="#c6c6c6" stroke-width="0.7"/><text x="-20.6" y="2.5" font-size="6.8" font-weight="bold" fill="#fff" stroke="#b2b2b2" stroke-width="0.4" textLength="16" lengthAdjust="spacingAndGlyphs">STOP</text><circle cx="0" cy="0" r="2.6" fill="#e2e2e2" stroke="#a8a8a8" stroke-width="1.1"/><text x="3.6" y="2.6" font-size="7" font-weight="bold" fill="#f0f0f0" stroke="#b6b6b6" stroke-width="0.6" textLength="15" lengthAdjust="spacingAndGlyphs">TECH</text></g><g transform="translate(258.8,317.9) rotate(-24.6)"><rect x="-22" y="-3.6" width="18.8" height="7.2" rx="0.9" fill="#e8e8e8" stroke="#c6c6c6" stroke-width="0.7"/><text x="-20.6" y="2.5" font-size="6.8" font-weight="bold" fill="#fff" stroke="#b2b2b2" stroke-width="0.4" textLength="16" lengthAdjust="spacingAndGlyphs">STOP</text><circle cx="0" cy="0" r="2.6" fill="#e2e2e2" stroke="#a8a8a8" stroke-width="1.1"/><text x="3.6" y="2.6" font-size="7" font-weight="bold" fill="#f0f0f0" stroke="#b6b6b6" stroke-width="0.6" textLength="15" lengthAdjust="spacingAndGlyphs">TECH</text></g><g transform="translate(306.0,291.8) rotate(-24.6)"><rect x="-22" y="-3.6" width="18.8" height="7.2" rx="0.9" fill="#e8e8e8" stroke="#c6c6c6" stroke-width="0.7"/><text x="-20.6" y="2.5" font-size="6.8" font-weight="bold" fill="#fff" stroke="#b2b2b2" stroke-width="0.4" textLength="16" lengthAdjust="spacingAndGlyphs">STOP</text><circle cx="0" cy="0" r="2.6" fill="#e2e2e2" stroke="#a8a8a8" stroke-width="1.1"/><text x="3.6" y="2.6" font-size="7" font-weight="bold" fill="#f0f0f0" stroke="#b6b6b6" stroke-width="0.6" textLength="15" lengthAdjust="spacingAndGlyphs">TECH</text></g><g transform="translate(290.2,316.8) rotate(-24.6)"><rect x="-22" y="-3.6" width="18.8" height="7.2" rx="0.9" fill="#e8e8e8" stroke="#c6c6c6" stroke-width="0.7"/><text x="-20.6" y="2.5" font-size="6.8" font-weight="bold" fill="#fff" stroke="#b2b2b2" stroke-width="0.4" textLength="16" lengthAdjust="spacingAndGlyphs">STOP</text><circle cx="0" cy="0" r="2.6" fill="#e2e2e2" stroke="#a8a8a8" stroke-width="1.1"/><text x="3.6" y="2.6" font-size="7" font-weight="bold" fill="#f0f0f0" stroke="#b6b6b6" stroke-width="0.6" textLength="15" lengthAdjust="spacingAndGlyphs">TECH</text></g><g transform="translate(337.5,290.7) rotate(-24.6)"><rect x="-22" y="-3.6" width="18.8" height="7.2" rx="0.9" fill="#e8e8e8" stroke="#c6c6c6" stroke-width="0.7"/><text x="-20.6" y="2.5" font-size="6.8" font-weight="bold" fill="#fff" stroke="#b2b2b2" stroke-width="0.4" textLength="16" lengthAdjust="spacingAndGlyphs">STOP</text><circle cx="0" cy="0" r="2.6" fill="#e2e2e2" stroke="#a8a8a8" stroke-width="1.1"/><text x="3.6" y="2.6" font-size="7" font-weight="bold" fill="#f0f0f0" stroke="#b6b6b6" stroke-width="0.6" textLength="15" lengthAdjust="spacingAndGlyphs">TECH</text></g><g transform="translate(321.8,315.7) rotate(-24.6)"><rect x="-22" y="-3.6" width="18.8" height="7.2" rx="0.9" fill="#e8e8e8" stroke="#c6c6c6" stroke-width="0.7"/><text x="-20.6" y="2.5" font-size="6.8" font-weight="bold" fill="#fff" stroke="#b2b2b2" stroke-width="0.4" textLength="16" lengthAdjust="spacingAndGlyphs">STOP</text><circle cx="0" cy="0" r="2.6" fill="#e2e2e2" stroke="#a8a8a8" stroke-width="1.1"/><text x="3.6" y="2.6" font-size="7" font-weight="bold" fill="#f0f0f0" stroke="#b6b6b6" stroke-width="0.6" textLength="15" lengthAdjust="spacingAndGlyphs">TECH</text></g><g transform="translate(353.2,314.6) rotate(-24.6)"><rect x="-22" y="-3.6" width="18.8" height="7.2" rx="0.9" fill="#e8e8e8" stroke="#c6c6c6" stroke-width="0.7"/><text x="-20.6" y="2.5" font-size="6.8" font-weight="bold" fill="#fff" stroke="#b2b2b2" stroke-width="0.4" textLength="16" lengthAdjust="spacingAndGlyphs">STOP</text><circle cx="0" cy="0" r="2.6" fill="#e2e2e2" stroke="#a8a8a8" stroke-width="1.1"/><text x="3.6" y="2.6" font-size="7" font-weight="bold" fill="#f0f0f0" stroke="#b6b6b6" stroke-width="0.6" textLength="15" lengthAdjust="spacingAndGlyphs">TECH</text></g></g>
<g stroke="#8c8c8c" stroke-width="1" fill="none">
<line x1="111.5" y1="143.4" x2="219" y2="143.4"/><line x1="252.5" y1="143.4" x2="359.5" y2="143.4"/>
<line x1="111.3" y1="141.5" x2="111.3" y2="191.5"/><line x1="359.7" y1="141.5" x2="359.7" y2="191.5"/>
<line x1="86.4" y1="156.5" x2="86.4" y2="203.9"/><line x1="86.4" y1="214.4" x2="86.4" y2="263"/>
<line x1="85" y1="156.4" x2="227.5" y2="156.4"/><line x1="85" y1="263.4" x2="135.7" y2="263.4"/>
<line x1="86.4" y1="277.3" x2="86.4" y2="286.75"/><line x1="86.4" y1="297.8" x2="86.4" y2="307.8"/>
<line x1="87.5" y1="277.3" x2="108.8" y2="277.3"/><line x1="87.5" y1="307.8" x2="130" y2="307.8"/>
</g>
<g fill="#222">
<path d="M111.5 143.4 L116.3 141.6 L116.3 145.2 Z"/><path d="M359.5 143.4 L354.7 141.6 L354.7 145.2 Z"/>
<path d="M86.4 156.6 L84.6 161.4 L88.2 161.4 Z"/><path d="M86.4 263.2 L84.6 258.4 L88.2 258.4 Z"/>
<path d="M86.4 277.4 L84.6 282.2 L88.2 282.2 Z"/><path d="M86.4 307.7 L84.6 302.9 L88.2 302.9 Z"/>
</g>
<text x="221.88" y="146.00" font-size="8.14" font-weight="bold" font-style="italic" fill="#1a1a1a" stroke="#1a1a1a" stroke-width="0.3" textLength="27.24" lengthAdjust="spacingAndGlyphs">137.6</text>
<text x="76.49" y="212.80" font-size="8.71" font-weight="bold" font-style="italic" fill="#1a1a1a" stroke="#1a1a1a" stroke-width="0.3" textLength="21.64" lengthAdjust="spacingAndGlyphs">59.7</text>
<text x="76.58" y="296.20" font-size="8.79" font-weight="bold" font-style="italic" fill="#1a1a1a" stroke="#1a1a1a" stroke-width="0.3" textLength="21.09" lengthAdjust="spacingAndGlyphs">16.9</text>
<path d="M235.5 156.25 L227.5 156.25 C215 157.2 201 159.4 171.25 165 L168.75 166.9 L153.3 171.1 L151.6 170.6 L133.5 177.2 Q130.4 178.4 130.4 181.4 L130.4 200.7 L112.6 200.7 Q111.4 200.7 111.4 201.9 L111.4 224.1 Q111.4 225.3 112.6 225.3 L135 225.3 L135 247.4 L144.4 261.6 Q145.2 263.2 146.6 263.2 L154.1 263.2 L154.7 259.7 L157.3 259.7 L171.9 259.7 L172.5 261.25 L182.5 261.25 C197 259 212 253.5 227.5 251 L235.5 251 L243.50 251.0 C259.00 253.5 274.00 259.0 288.50 261.25 L298.50 261.25 L299.10 259.7 L313.70 259.7 L316.30 259.7 L316.90 263.2 L324.40 263.2 Q325.80 263.2 326.60 261.6 L336.00 247.4 L336.00 225.3 L358.40 225.3 Q359.60 225.3 359.60 224.1 L359.60 201.9 Q359.60 200.7 358.40 200.7 L340.60 200.7 L340.60 181.4 Q340.60 178.4 337.50 177.2 L319.40 170.6 L317.70 171.1 L302.25 166.9 L299.75 165.0 C270.00 159.4 256.00 157.2 243.50 156.25 L235.50 156.25 Z" fill="none" stroke="#3a3a3a" stroke-width="1.05"/>
<path d="M235.5 159.5 L226 160 L212 160.9 L201 161.9 L185 165 L170 168.75 L160 172.3 L141 178.6 Q134.6 181.5 134.6 188.7 L141 211 L147 228 L152.1 242.9 L155.4 250.6 Q157.3 255.6 161.5 255.9 L182.5 256.25 C197 254.2 212 251 227.5 249.5 L235.5 249.3 L243.5 249.5 C259 251 274 254.2 288.5 256.25 L309.5 255.9 Q313.7 255.6 315.6 250.6 L318.9 242.9 L324 228 L330 211 L336.4 188.7 Q336.4 181.5 330 178.6 L311 172.3 L301 168.75 L286 165 L270 161.9 L259 160.9 L245 160 L235.5 159.5 Z" fill="none" stroke="#333" stroke-width="1.15"/>
<rect x="227.5" y="156" width="16" height="3.6" fill="#8a8a8a"/>
<rect x="157.3" y="258.2" width="14.6" height="3.2" fill="#8a8a8a"/><rect x="299.1" y="258.2" width="14.6" height="3.2" fill="#8a8a8a"/>
<rect x="227.5" y="249.2" width="16" height="2.2" fill="#8a8a8a"/>
<g fill="none" stroke="#3a3a3a" stroke-width="0.9">
<path d="M137.6 250.3 L140.2 249 L146 258.4 L143.7 260"/>
<path d="M333.4 250.3 L330.8 249 L325 258.4 L327.3 260"/>
</g>
<g fill="none" stroke="#8a8a8a" stroke-width="0.8">
<path d="M137.9 245.4 L147.6 240 L157 247"/><path d="M148.3 260.3 L155 255.5"/>
<path d="M333.1 245.4 L323.4 240 L314 247"/><path d="M322.7 260.3 L316 255.5"/>
</g>
<g fill="none" stroke="#3a3a3a" stroke-width="1">
<rect x="111.3" y="277.4" width="248.3" height="10.6"/>
<path d="M134.4 288 L134.4 307.6 L337 307.6 L337 288"/>
<line x1="130.4" y1="277.4" x2="130.4" y2="288"/><line x1="340.8" y1="277.4" x2="340.8" y2="288"/>
<line x1="138" y1="276.6" x2="333" y2="276.6" stroke="#666"/>
<line x1="130.4" y1="279.7" x2="340.8" y2="279.7" stroke="#8a8a8a" stroke-width="0.8"/>
</g>
<g fill="none" stroke="#888" stroke-width="0.7">
<rect x="153" y="278" width="17.5" height="9.4"/>
<line x1="156" y1="280.5" x2="167.5" y2="280.5"/>
<line x1="156" y1="283" x2="167.5" y2="283"/>
<line x1="156" y1="285.5" x2="167.5" y2="285.5"/>
<rect x="226.6" y="278" width="18.0" height="9.4"/>
<line x1="229.6" y1="280.5" x2="241.6" y2="280.5"/>
<line x1="229.6" y1="283" x2="241.6" y2="283"/>
<line x1="229.6" y1="285.5" x2="241.6" y2="285.5"/>
<rect x="301" y="278" width="18" height="9.4"/>
<line x1="304" y1="280.5" x2="316" y2="280.5"/>
<line x1="304" y1="283" x2="316" y2="283"/>
<line x1="304" y1="285.5" x2="316" y2="285.5"/>
</g>
<polygon points="408.3,140.6 413.2,139.4 415.2,136.7 432.1,136.2 436.6,138.4 449.0,142.4 458.0,145.7 460.2,149.1 459.1,153.6 449.0,156.4 437.7,159.2 433.2,155.9 414.1,146.9 413.0,144.6 408.5,143.6" fill="#454545" stroke="#454545" stroke-width="0.8" stroke-linejoin="round"/>
<polygon points="408.3,140.6 413.2,139.4 415.2,136.7 432.1,136.2 436.6,138.4 449.0,142.4 458.0,145.7 460.2,149.1 451.2,150.8 440.0,151.5 432.0,149.0 418.0,143.0 413.5,142.0" fill="#5f5f5f" stroke="#5f5f5f" stroke-width="0.8" stroke-linejoin="round"/>
<polygon points="445.6,130.0 447.9,127.2 467.0,128.3 488.4,133.9 490.6,136.2 490.6,140.1 482.7,144.6 473.7,145.2 454.6,140.1 446.7,134.5" fill="#3f3f3f" stroke="#3f3f3f" stroke-width="0.8" stroke-linejoin="round"/>
<polygon points="445.6,130.0 447.9,127.2 467.0,128.3 488.4,133.9 490.6,136.2 482.7,137.8 471.5,137.0 458.0,134.0 446.7,131.7" fill="#646464" stroke="#646464" stroke-width="0.8" stroke-linejoin="round"/>
<rect x="458" y="118.7" width="2.4" height="9" fill="#a08a52"/><rect x="458.2" y="127.5" width="2" height="5" fill="#4a4a4a"/>
<polygon points="494.5,141.5 506.0,136.5 515.0,135.5 530.0,140.0 552.0,145.0 554.0,148.0 555.0,150.0 559.0,151.0 563.0,157.0 560.0,160.0 546.0,160.0 530.0,155.0 510.0,150.5 498.0,148.0 494.0,143.0" fill="#43423f" stroke="#43423f" stroke-width="0.8" stroke-linejoin="round"/>
<polygon points="494.5,141.5 506.0,136.5 515.0,135.5 530.0,140.0 552.0,145.0 554.0,148.0 553.5,151.5 535.0,149.0 518.0,145.5 500.0,142.3" fill="#a09f95" stroke="#a09f95" stroke-width="0.8" stroke-linejoin="round"/>
<line x1="518" y1="146.5" x2="530" y2="140.5" stroke="#555" stroke-width="0.8"/>
<polygon points="465.1,160.7 477.5,155.7 487.6,155.1 505.6,159.6 524.7,167.5 529.8,173.1 530.4,177.6 533.7,183.2 529.2,186.6 520.2,187.2 506.7,188.3 492.1,182.1 471.9,174.2 464.0,169.7 463.4,165.2" fill="#3e3d3b" stroke="#3e3d3b" stroke-width="0.8" stroke-linejoin="round"/>
<polygon points="465.1,160.7 477.5,155.7 487.6,155.1 505.6,159.6 524.7,167.5 529.8,173.1 523.0,175.2 509.0,173.6 488.7,167.2 467.4,163.2" fill="#a09f95" stroke="#a09f95" stroke-width="0.8" stroke-linejoin="round"/>
<line x1="489.9" y1="168.6" x2="504.5" y2="160.2" stroke="#555" stroke-width="0.8"/>
<path d="M585.1 119.1 L591 119.1 L591 125.9 L585.1 125.9 Z M655 121.4 L661 121.4 L661 128.1 L655 128.1 Z" fill="#2b2828"/>
<path d="M592.4 108.4 C600 108.6 606 108.8 610.4 109 C617 109.5 621 112.4 625 112.4 C629 112.4 631 110.9 635.1 110.7 L650.9 109.6 Q654 109.8 654.4 113.5 L655.4 132.6 Q655 135.5 652 136 C640 138 632 139.9 625 139.9 C612 139.9 600 137 592.4 133.7 Q590 132.5 590.1 130.4 L591 112 Q591 108.4 592.4 108.4 Z" fill="#292626"/>
<circle cx="595.7" cy="110.1" r="2.4" fill="#a38b4a"/>
<path d="M583.4 158.6 L590.5 158.6 L590.5 165.3 L583.4 165.3 Z M653 160.2 L660.4 160.2 L660.4 166.4 L653 166.4 Z" fill="#2e2b2b"/>
<path d="M590.1 151.8 C594 149 598 148 602.5 147.3 C609 146.2 615 145.6 621.6 145.6 C630 145.6 637 146.6 643 147.9 C649 149.3 652 150.5 653.7 153.5 L653.1 174.9 Q651 178.2 647.5 178.2 C642 178 638 176.8 634 176 C628 174.6 624 172.6 620.5 172.6 C615 172.6 611 173.8 608.1 174.3 C603 175.5 598 177.7 594.6 177.7 Q590.5 177.5 590.1 174.9 Z" fill="#2d2a2a"/>
<path d="M665.6 121.4 L672.5 121.4 L672.5 128.1 L665.6 128.1 Z M737 123 L744.4 123 L744.4 129.8 L737 129.8 Z" fill="#3a3838"/>
<path d="M674.6 110.7 C680 110.9 684 111 687 111.2 C695 111.8 700 114 705 114 C710 114 716 111.8 723 111.2 L734.2 110.7 Q736.5 112 737.6 120.2 L737.6 132.6 Q737.5 135 735.4 136 C725 139 715 142.7 705 142.7 C695 142.7 682 139.5 672.4 136.6 Q671 135.5 671.2 133.7 L673 115.7 Q673.5 110.7 674.6 110.7 Z" fill="#3b3939"/>
<path d="M677.4 112.2 C682 111.6 685 111.5 687 111.7 C695 112.3 700 114.4 705 114.4 C710 114.4 716 112.3 723 111.7 L732 112 Q735.5 118 736.4 125 L736.4 133.3 Q736 135 734.4 135.6 C725 138.5 715 142.2 705 142.2 C695 142.2 683 139.2 673.5 136.4 Q672.4 135 672.6 133.5 L675.5 118 Q676 113 677.4 112.2 Z" fill="#97968f"/>
<line x1="705" y1="114" x2="705" y2="142.4" stroke="#2e2e2e" stroke-width="0.9"/>
<circle cx="735.5" cy="114" r="1.8" fill="#a38b4a"/>
<path d="M666.2 160.8 L673 160.8 L673 167.6 L666.2 167.6 Z M734.5 161.9 L741.6 161.9 L741.6 169.2 L734.5 169.2 Z" fill="#3a3838"/>
<path d="M672.4 154.1 C678 151.5 683 150.4 688.1 149.6 C694 148.8 699 148.4 705 148.4 C711 148.4 717 149.6 723 150.7 C729 151.9 733 153 735.4 155.2 L734.2 173.7 Q733 178.5 729.7 179.9 C721 178.5 713 176 705 176 C696 176 686 178.8 676.9 178.8 Q673 177.5 672.4 173.7 Z" fill="#3a3838"/>
<path d="M673.6 154.4 C678 152 683 150.9 688.1 150.1 C694 149.3 699 148.9 705 148.9 C711 148.9 717 150.1 723 151.2 C729 152.4 732.5 153.5 734.6 155.6 L733.4 168 Q731 172 727 176.5 C720 175.8 712 175.6 705 175.6 C696 175.6 688 176.2 681 176.4 Q676 172 674 166 Z" fill="#97968f"/>
<line x1="705" y1="148.6" x2="705" y2="175.8" stroke="#2e2e2e" stroke-width="0.9"/>
<path d="M417.3 292.1 L563.6 292.8 L563.6 299.2 L551 299.2 L550.9 302 Q550 309.5 543 310.2 L492.1 310 L492.1 303.8 L488.9 303.8 L488.9 310 L433 309.6 Q429.5 309 429.5 305 L429.5 298.6 L417.3 298.6 Z" fill="#333"/>
<path d="M436 273.8 L443.6 273.8 L443.6 278 L440.2 278 L440.2 287.5 L443.5 290 L443.5 292.2 L435.4 292.2 L435.4 275 Z" fill="#c2a552"/>
<path d="M414 319.9 L562.3 320.6 L562.3 327 L549.6 327 L549.6 329.5 Q548.5 336.8 541 337.4 L492 337.2 L492 330 L489 330 L489 337.2 L430 336.7 Q425.7 336 425.7 332 L425.7 326.4 L414 326.4 Z" fill="#333"/>
<line x1="432" y1="293.5" x2="548" y2="294" stroke="#5a5a5a" stroke-width="1"/>
<line x1="428" y1="321.5" x2="546" y2="322" stroke="#5a5a5a" stroke-width="1"/>
<rect x="39" y="410.5" width="344.1" height="30" fill="#000"/>
<rect x="385.9" y="410.5" width="211" height="30" fill="#000"/>
<rect x="600" y="410.5" width="162.4" height="30" fill="#000"/>
<text x="49.08" y="429.40" font-size="14.93" font-weight="bold" font-style="normal" fill="#fff" textLength="149.70" lengthAdjust="spacingAndGlyphs">Inner Brake Pads Specs</text>
<text x="222.37" y="429.40" font-size="14.93" font-weight="bold" font-style="normal" fill="#fff" textLength="152.64" lengthAdjust="spacingAndGlyphs">Outer Brake Pads Specs</text>
<text x="470.63" y="429.40" font-size="15.80" font-weight="bold" font-style="normal" fill="#fff" textLength="42.13" lengthAdjust="spacingAndGlyphs">FMSI #</text>
<text x="639.39" y="429.40" font-size="14.93" font-weight="bold" font-style="normal" fill="#fff" textLength="83.36" lengthAdjust="spacingAndGlyphs">Related Parts</text>
<text x="79.26" y="453.20" font-size="10.55" font-weight="bold" font-style="normal" fill="#111" stroke="#111" stroke-width="0.2" textLength="78.48" lengthAdjust="spacingAndGlyphs">Inner Pad Width:</text>
<text x="162.14" y="453.20" font-size="11.00" font-weight="bold" font-style="normal" fill="#111" stroke="#111" stroke-width="0.2" textLength="23.16" lengthAdjust="spacingAndGlyphs">137.6</text>
<text x="75.81" y="468.92" font-size="10.55" font-weight="bold" font-style="normal" fill="#111" stroke="#111" stroke-width="0.2" textLength="81.97" lengthAdjust="spacingAndGlyphs">Inner Pad Height:</text>
<text x="161.92" y="468.92" font-size="11.00" font-weight="bold" font-style="normal" fill="#111" stroke="#111" stroke-width="0.2" textLength="18.32" lengthAdjust="spacingAndGlyphs">59.7</text>
<text x="42.51" y="484.64" font-size="10.55" font-weight="bold" font-style="normal" fill="#111" stroke="#111" stroke-width="0.2" textLength="115.21" lengthAdjust="spacingAndGlyphs">Inner Pad Thk w/o Shim:</text>
<text x="161.93" y="484.64" font-size="11.00" font-weight="bold" font-style="normal" fill="#111" stroke="#111" stroke-width="0.2" textLength="18.62" lengthAdjust="spacingAndGlyphs">16.9</text>
<text x="62.01" y="500.36" font-size="10.55" font-weight="bold" font-style="normal" fill="#111" stroke="#111" stroke-width="0.2" textLength="95.77" lengthAdjust="spacingAndGlyphs">Sensor Wire Length:</text>
<text x="253.90" y="453.20" font-size="10.55" font-weight="bold" font-style="normal" fill="#111" stroke="#111" stroke-width="0.2" textLength="80.56" lengthAdjust="spacingAndGlyphs">Outer Pad Width:</text>
<text x="338.84" y="453.20" font-size="11.00" font-weight="bold" font-style="normal" fill="#111" stroke="#111" stroke-width="0.2" textLength="23.47" lengthAdjust="spacingAndGlyphs">137.6</text>
<text x="251.11" y="468.92" font-size="10.55" font-weight="bold" font-style="normal" fill="#111" stroke="#111" stroke-width="0.2" textLength="83.38" lengthAdjust="spacingAndGlyphs">Outer Pad Height:</text>
<text x="338.62" y="468.92" font-size="11.00" font-weight="bold" font-style="normal" fill="#111" stroke="#111" stroke-width="0.2" textLength="18.32" lengthAdjust="spacingAndGlyphs">59.7</text>
<text x="217.61" y="484.64" font-size="10.55" font-weight="bold" font-style="normal" fill="#111" stroke="#111" stroke-width="0.2" textLength="116.83" lengthAdjust="spacingAndGlyphs">Outer Pad Thk w/o Shim:</text>
<text x="338.62" y="484.64" font-size="11.00" font-weight="bold" font-style="normal" fill="#111" stroke="#111" stroke-width="0.2" textLength="18.73" lengthAdjust="spacingAndGlyphs">16.9</text>
<text x="392.02" y="453.20" font-size="11.00" font-weight="bold" font-style="normal" fill="#111" stroke="#111" stroke-width="0.2" textLength="26.58" lengthAdjust="spacingAndGlyphs">FMSI:</text>
<text x="496.40" y="453.20" font-size="11.00" font-weight="bold" font-style="normal" fill="#111" stroke="#111" stroke-width="0.2" textLength="27.11" lengthAdjust="spacingAndGlyphs">FMSI:</text>
<text x="392.02" y="468.92" font-size="11.00" font-weight="bold" font-style="normal" fill="#111" stroke="#111" stroke-width="0.2" textLength="26.58" lengthAdjust="spacingAndGlyphs">FMSI:</text>
<text x="496.40" y="468.92" font-size="11.00" font-weight="bold" font-style="normal" fill="#111" stroke="#111" stroke-width="0.2" textLength="27.11" lengthAdjust="spacingAndGlyphs">FMSI:</text>
<text x="392.02" y="484.64" font-size="11.00" font-weight="bold" font-style="normal" fill="#111" stroke="#111" stroke-width="0.2" textLength="26.58" lengthAdjust="spacingAndGlyphs">FMSI:</text>
<text x="496.40" y="484.64" font-size="11.00" font-weight="bold" font-style="normal" fill="#111" stroke="#111" stroke-width="0.2" textLength="27.11" lengthAdjust="spacingAndGlyphs">FMSI:</text>
<text x="392.02" y="500.36" font-size="11.00" font-weight="bold" font-style="normal" fill="#111" stroke="#111" stroke-width="0.2" textLength="26.58" lengthAdjust="spacingAndGlyphs">FMSI:</text>
<text x="496.40" y="500.36" font-size="11.00" font-weight="bold" font-style="normal" fill="#111" stroke="#111" stroke-width="0.2" textLength="27.11" lengthAdjust="spacingAndGlyphs">FMSI:</text>
<text x="392.02" y="516.08" font-size="11.00" font-weight="bold" font-style="normal" fill="#111" stroke="#111" stroke-width="0.2" textLength="26.58" lengthAdjust="spacingAndGlyphs">FMSI:</text>
<text x="496.40" y="516.08" font-size="11.00" font-weight="bold" font-style="normal" fill="#111" stroke="#111" stroke-width="0.2" textLength="27.11" lengthAdjust="spacingAndGlyphs">FMSI:</text>
<text x="392.02" y="531.80" font-size="11.00" font-weight="bold" font-style="normal" fill="#111" stroke="#111" stroke-width="0.2" textLength="26.58" lengthAdjust="spacingAndGlyphs">FMSI:</text>
<text x="496.40" y="531.80" font-size="11.00" font-weight="bold" font-style="normal" fill="#111" stroke="#111" stroke-width="0.2" textLength="27.11" lengthAdjust="spacingAndGlyphs">FMSI:</text>
<text x="392.02" y="547.52" font-size="11.00" font-weight="bold" font-style="normal" fill="#111" stroke="#111" stroke-width="0.2" textLength="26.58" lengthAdjust="spacingAndGlyphs">FMSI:</text>
<text x="496.40" y="547.52" font-size="11.00" font-weight="bold" font-style="normal" fill="#111" stroke="#111" stroke-width="0.2" textLength="27.11" lengthAdjust="spacingAndGlyphs">FMSI:</text>
<text x="424.13" y="453.20" font-size="11.00" font-weight="bold" font-style="normal" fill="#111" stroke="#111" stroke-width="0.2" textLength="43.11" lengthAdjust="spacingAndGlyphs">7589D721</text>
<text x="423.86" y="468.92" font-size="11.00" font-weight="bold" font-style="normal" fill="#111" stroke="#111" stroke-width="0.2" textLength="21.92" lengthAdjust="spacingAndGlyphs">D721</text>
<text x="604.12" y="453.20" font-size="10.55" font-weight="bold" font-style="normal" fill="#111" stroke="#111" stroke-width="0.2" textLength="71.51" lengthAdjust="spacingAndGlyphs">Hardware Kit #:</text>
<text x="96.64" y="566.60" font-size="13.84" font-weight="bold" font-style="normal" fill="#111" stroke="#111" stroke-width="0.2" textLength="41.47" lengthAdjust="spacingAndGlyphs">Note 1:</text>
<text x="96.64" y="584.60" font-size="13.84" font-weight="bold" font-style="normal" fill="#111" stroke="#111" stroke-width="0.2" textLength="41.47" lengthAdjust="spacingAndGlyphs">Note 2:</text>
<defs><linearGradient id="tg" x1="0" y1="0" x2="0" y2="1"><stop offset="0" stop-color="#d85a5a"/><stop offset="1" stop-color="#a82323"/></linearGradient></defs>
<path d="M68 555.9 L80.3 577.6 L55.7 577.6 Z" fill="url(#tg)" stroke="url(#tg)" stroke-width="0.9" stroke-linejoin="round"/>
<path d="M68 561.2 L76 574.6 L60 574.6 Z" fill="#fbefef"/>
<path d="M67.1 563.6 L68.9 563.6 L68.6 571.6 L67.4 571.6 Z" fill="#111"/><rect x="67.15" y="572.6" width="1.7" height="2" fill="#111"/></svg>
</body></html>
